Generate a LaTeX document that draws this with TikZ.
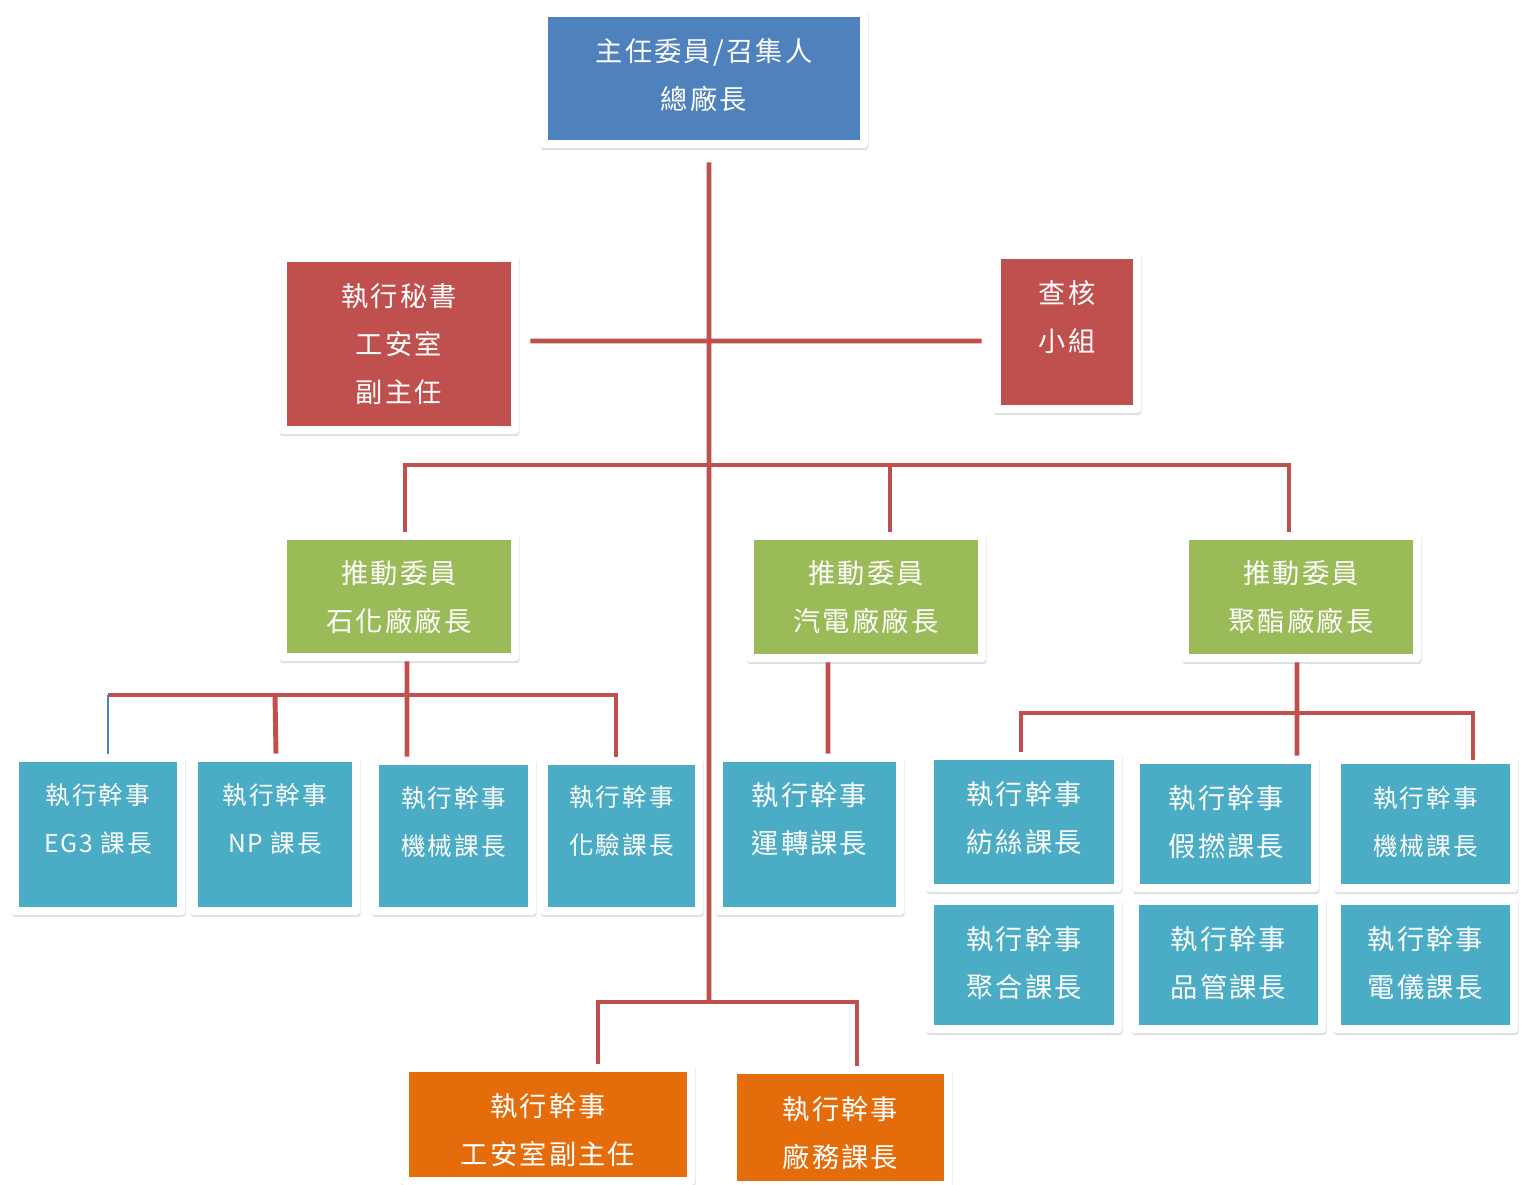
\documentclass[tikz,border=0pt]{standalone}
\usepackage{fontspec}
\newfontfamily\cjk[LetterSpace=8]{Noto Sans CJK TC}
\usepackage{tikz}
\usetikzlibrary{shadows}
\definecolor{boxblue}{HTML}{4F81BD}
\definecolor{boxred}{HTML}{C0504D}
\definecolor{boxgreen}{HTML}{9BBB59}
\definecolor{boxcyan}{HTML}{4BACC6}
\definecolor{boxorange}{HTML}{E46C0A}
\definecolor{linkred}{HTML}{C0504D}
\begin{document}
\begin{tikzpicture}
\useasboundingbox (0,0) rectangle (30.44,-23.70);
\tikzset{frame/.style={rectangle,fill=white,rounded corners=2pt,inner sep=0pt,
  drop shadow={opacity=0.25,shadow xshift=0.4pt,shadow yshift=-1.2pt},
  path picture={\fill[#1,sharp corners] ([xshift=0.16cm,yshift=-0.16cm]path picture bounding box.north west) rectangle ([xshift=-0.16cm,yshift=0.16cm]path picture bounding box.south east);}}}
\tikzstyle{txt}=[text=white,align=center,font=\cjk\fontsize{15.5}{27.3}\selectfont]
\tikzstyle{txtsmall}=[txt,font=\cjk\fontsize{14}{27.3}\selectfont]
\tikzstyle{link}=[draw=linkred,line width=2.8pt]
\tikzstyle{thinlink}=[draw=boxblue,line width=1pt]
% top
\node[frame=boxblue,minimum width=6.56cm,minimum height=2.78cm] (top) at (14.08,-1.57) {};
\node[txt] (topt) at (14.08,-1.50) {主任委員/召集人\\總廠長};
\node[frame=boxred,minimum width=4.80cm,minimum height=3.60cm] (sec) at (7.98,-6.88) {};
\node[txt] (sect) at (7.98,-6.88) {執行秘書\\工安室\\副主任};
\node[frame=boxred,minimum width=2.96cm,minimum height=3.24cm] (audit) at (21.34,-6.64) {};
\node[txt] (auditt) at (21.34,-6.34) {查核\\小組};
% plants
\node[frame=boxgreen,minimum width=4.80cm,minimum height=2.58cm] (g1) at (7.98,-11.93) {};
\node[txt] (g1t) at (7.98,-11.94) {推動委員\\石化廠廠長};
\node[frame=boxgreen,minimum width=4.80cm,minimum height=2.60cm] (g2) at (17.32,-11.94) {};
\node[txt] (g2t) at (17.32,-11.94) {推動委員\\汽電廠廠長};
\node[frame=boxgreen,minimum width=4.80cm,minimum height=2.60cm] (g3) at (26.02,-11.94) {};
\node[txt] (g3t) at (26.02,-11.94) {推動委員\\聚酯廠廠長};
% sections
\node[frame=boxcyan,minimum width=3.48cm,minimum height=3.22cm] (eg3) at (1.96,-16.69) {};
\node[txtsmall] (eg3t) at (1.96,-16.38) {執行幹事\\EG3 課長};
\node[frame=boxcyan,minimum width=3.40cm,minimum height=3.22cm] (np) at (5.50,-16.69) {};
\node[txtsmall] (npt) at (5.50,-16.38) {執行幹事\\NP 課長};
\node[frame=boxcyan,minimum width=3.30cm,minimum height=3.16cm] (mech1) at (9.07,-16.72) {};
\node[txtsmall] (mech1t) at (9.07,-16.44) {執行幹事\\機械課長};
\node[frame=boxcyan,minimum width=3.26cm,minimum height=3.16cm] (lab) at (12.43,-16.72) {};
\node[txtsmall] (labt) at (12.43,-16.42) {執行幹事\\化驗課長};
\node[frame=boxcyan,minimum width=3.78cm,minimum height=3.22cm] (op) at (16.19,-16.69) {};
\node[txt] (opt) at (16.19,-16.38) {執行幹事\\運轉課長};
\node[frame=boxcyan,minimum width=3.92cm,minimum height=2.80cm] (spin) at (20.48,-16.44) {};
\node[txt] (spint) at (20.48,-16.36) {執行幹事\\紡絲課長};
\node[frame=boxcyan,minimum width=3.74cm,minimum height=2.72cm] (tex) at (24.51,-16.48) {};
\node[txt] (text) at (24.53,-16.44) {執行幹事\\假撚課長};
\node[frame=boxcyan,minimum width=3.70cm,minimum height=2.72cm] (mech2) at (28.51,-16.48) {};
\node[txtsmall] (mech2t) at (28.51,-16.43) {執行幹事\\機械課長};
\node[frame=boxcyan,minimum width=3.92cm,minimum height=2.72cm] (poly) at (20.48,-19.30) {};
\node[txt] (polyt) at (20.48,-19.26) {執行幹事\\聚合課長};
\node[frame=boxcyan,minimum width=3.90cm,minimum height=2.72cm] (qc) at (24.57,-19.30) {};
\node[txt] (qct) at (24.57,-19.26) {執行幹事\\品管課長};
\node[frame=boxcyan,minimum width=3.70cm,minimum height=2.72cm] (elec) at (28.51,-19.30) {};
\node[txt] (elect) at (28.51,-19.26) {執行幹事\\電儀課長};
% bottom
\node[frame=boxorange,minimum width=5.88cm,minimum height=2.42cm] (safe) at (10.96,-22.49) {};
\node[txt] (safet) at (10.96,-22.60) {執行幹事\\工安室副主任};
\node[frame=boxorange,minimum width=4.46cm,minimum height=2.46cm] (plant) at (16.81,-22.55) {};
\node[txt] (plantt) at (16.81,-22.65) {執行幹事\\廠務課長};
% junctions
\coordinate (h1) at (14.18,-9.30);
\coordinate (h2) at (8.14,-13.90);
\coordinate (h3) at (25.94,-14.26);
\coordinate (h4) at (14.18,-20.04);
% connectors
\draw[link] ([xshift=0.10cm,yshift=-0.28cm]top.south) -- (h4);
\draw[link] ([xshift=0.22cm,yshift=0.06cm]sec.east) -- ([xshift=-0.22cm,yshift=-0.18cm]audit.west);
\draw[link] ([xshift=0.12cm]g1.north) |- (h1) -| ([xshift=-0.24cm]g3.north);
\draw[link] (h1) -| ([xshift=0.48cm]g2.north);
\draw[link] ([xshift=0.16cm]g1.south) -- ([xshift=-0.93cm]mech1.north);
\draw[link] ([xshift=0.20cm]eg3.north |- h2) -| ([xshift=-0.11cm]lab.north);
\draw[link] (h2 -| np.north) -- ([xshift=0.02cm]np.north);
\draw[thinlink] ([xshift=0.20cm]eg3.north |- h2) -- ([xshift=0.20cm]eg3.north);
\draw[link] ([xshift=-0.76cm]g2.south) -- ([xshift=0.37cm]op.north);
\draw[link] ([xshift=-0.08cm]g3.south) -- ([xshift=1.43cm]tex.north);
\draw[link] ([xshift=-0.06cm]spin.north) |- (h3) -| ([xshift=0.95cm,yshift=-0.08cm]mech2.north);
\draw[link] ([xshift=1.00cm]safe.north) |- (h4) -| ([xshift=0.33cm]plant.north);
\end{tikzpicture}
\end{document}
